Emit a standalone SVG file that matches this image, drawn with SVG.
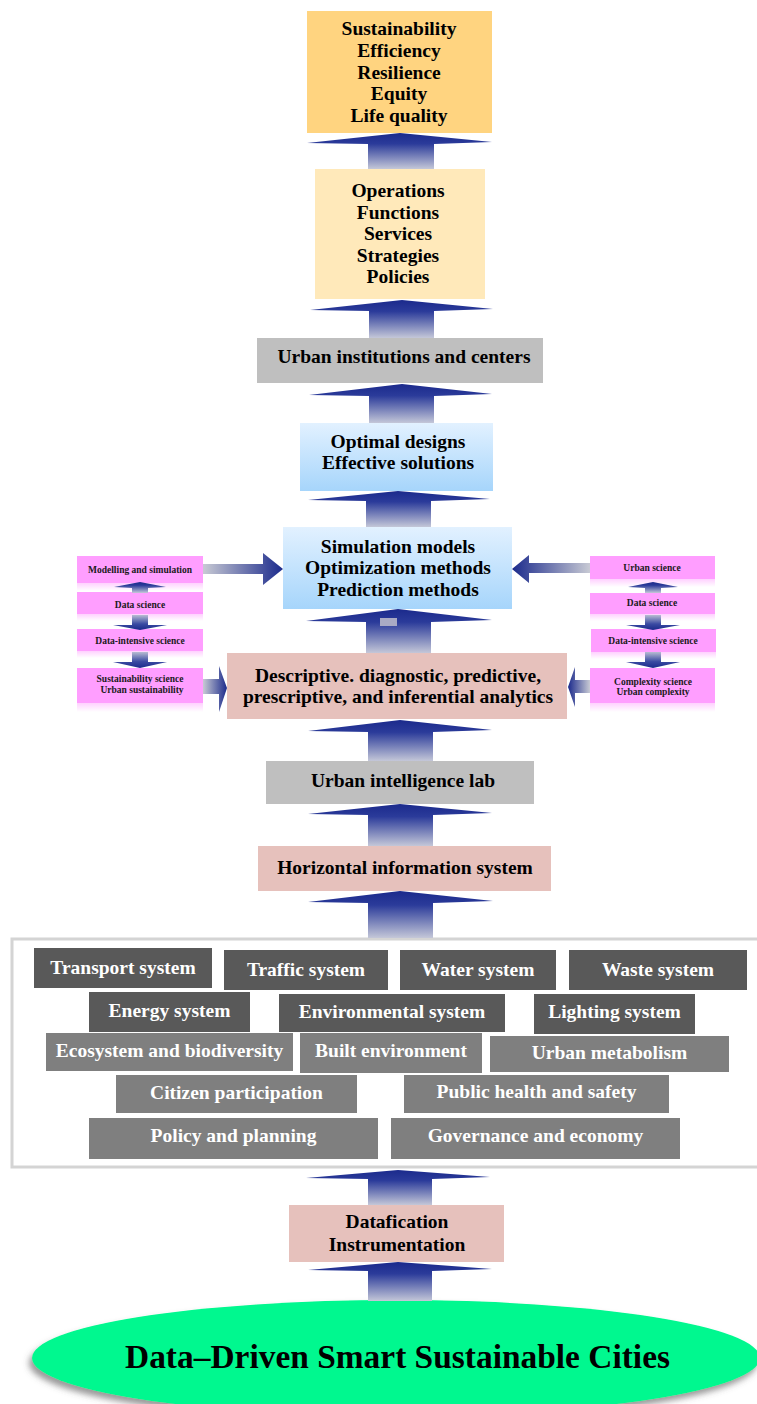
<svg xmlns="http://www.w3.org/2000/svg" width="757" height="1404" viewBox="0 0 757 1404">
<style>
.t{font-family:"Liberation Serif","Times New Roman",serif;font-weight:bold;font-size:19.5px;text-anchor:middle;fill:#000}
.tw{font-family:"Liberation Serif","Times New Roman",serif;font-weight:bold;font-size:19.5px;text-anchor:middle;fill:#fff}
.ts{font-family:"Liberation Serif","Times New Roman",serif;font-weight:bold;font-size:9.5px;text-anchor:middle;fill:#1a1a1a}
.arr{fill:url(#gV)}
.arrD{fill:url(#gD)}
.arrR{fill:url(#gR)}
.arrL{fill:url(#gL)}
.pink{fill:#FF9EFF}
.refl{fill:url(#gRefl)}
.dk{fill:#595959}
.md{fill:#7F7F7F}
.gray{fill:#BFBFBF}
.rose{fill:#E6C1BC}
.blue{fill:url(#gBlue)}
</style>
<defs>
<linearGradient id="gV" x1="0" y1="0" x2="0" y2="1">
<stop offset="0" stop-color="#1B2A8C"/>
<stop offset="0.3" stop-color="#2B3B9A"/>
<stop offset="1" stop-color="#C4C7D8"/>
</linearGradient>
<linearGradient id="gD" x1="0" y1="0" x2="0" y2="1">
<stop offset="0" stop-color="#B8BCD2"/>
<stop offset="0.6" stop-color="#3A4AA2"/>
<stop offset="1" stop-color="#1B2A8C"/>
</linearGradient>
<linearGradient id="gR" x1="0" y1="0" x2="1" y2="0">
<stop offset="0" stop-color="#C8CAD4"/>
<stop offset="1" stop-color="#1B2A8C"/>
</linearGradient>
<linearGradient id="gL" x1="0" y1="0" x2="1" y2="0">
<stop offset="0" stop-color="#1B2A8C"/>
<stop offset="1" stop-color="#C8CAD4"/>
</linearGradient>
<linearGradient id="gBlue" x1="0" y1="0" x2="0" y2="1">
<stop offset="0" stop-color="#E2F1FF"/>
<stop offset="1" stop-color="#A6D5FB"/>
</linearGradient>
<linearGradient id="gRefl" x1="0" y1="0" x2="0" y2="1">
<stop offset="0" stop-color="#FFD0FF"/>
<stop offset="1" stop-color="#FFFFFF"/>
</linearGradient>
<filter id="shadow" x="-10%" y="-30%" width="120%" height="160%">
<feDropShadow dx="-3" dy="5" stdDeviation="3" flood-color="#555" flood-opacity="0.6"/>
</filter>
</defs>

<rect width="757" height="1404" fill="#fff"/>

<g id="container">
<rect x="12" y="939" width="760" height="228" fill="#fff" stroke="#D4D4D4" stroke-width="3"/>
</g>

<g id="n-goals">
<rect x="307" y="11" width="185" height="122" fill="#FFD480"/>
<text class="t" x="399" y="35">Sustainability</text>
<text class="t" x="399" y="57">Efficiency</text>
<text class="t" x="399" y="78.5">Resilience</text>
<text class="t" x="399" y="100">Equity</text>
<text class="t" x="399" y="121.5">Life quality</text>
</g>

<g id="n-operations">
<rect x="315" y="169" width="170" height="130" fill="#FFE9BA"/>
<text class="t" x="398" y="197">Operations</text>
<text class="t" x="398" y="218.5">Functions</text>
<text class="t" x="398" y="240">Services</text>
<text class="t" x="398" y="261.5">Strategies</text>
<text class="t" x="398" y="283">Policies</text>
</g>

<g id="n-institutions">
<rect class="gray" x="257" y="338" width="286" height="45"/>
<text class="t" x="404" y="363">Urban institutions and centers</text>
</g>

<g id="n-designs">
<rect class="blue" x="300" y="423" width="193" height="68"/>
<text class="t" x="398" y="448">Optimal designs</text>
<text class="t" x="398" y="469">Effective solutions</text>
</g>

<g id="n-models">
<rect class="blue" x="283" y="527" width="229" height="82"/>
<text class="t" x="398" y="552.5">Simulation models</text>
<text class="t" x="398" y="574">Optimization methods</text>
<text class="t" x="398" y="595.5">Prediction methods</text>
</g>

<g id="n-analytics">
<rect class="rose" x="227" y="653" width="340" height="66"/>
<text class="t" x="398" y="682">Descriptive. diagnostic, predictive,</text>
<text class="t" x="398" y="703">prescriptive, and inferential analytics</text>
</g>

<g id="n-lab">
<rect class="gray" x="266" y="761" width="268" height="43"/>
<text class="t" x="403" y="787">Urban intelligence lab</text>
</g>

<g id="n-his">
<rect class="rose" x="258" y="846" width="293" height="45"/>
<text class="t" x="405" y="874">Horizontal information system</text>
</g>

<g id="n-left-modelling">
<rect class="pink" x="77" y="556" width="126" height="27"/>
<rect class="refl" x="77" y="583" width="126" height="8"/>
<text class="ts" x="140" y="572.5">Modelling and simulation</text>
</g>
<g id="n-left-datascience">
<rect class="pink" x="77" y="592" width="126" height="22"/>
<rect class="refl" x="77" y="614" width="126" height="7"/>
<text class="ts" x="140" y="608">Data science</text>
</g>
<g id="n-left-dataintensive">
<rect class="pink" x="77" y="629" width="126" height="22"/>
<rect class="refl" x="77" y="651" width="126" height="7"/>
<text class="ts" x="140" y="643.5">Data-intensive science</text>
</g>
<g id="n-left-sustainability">
<rect class="pink" x="77" y="668" width="126" height="35"/>
<rect class="refl" x="77" y="703" width="126" height="9"/>
<text class="ts" x="140" y="682">Sustainability science</text>
<text class="ts" x="142" y="692.5">Urban sustainability</text>
</g>

<g id="n-right-urbanscience">
<rect class="pink" x="590" y="556" width="125" height="23"/>
<rect class="refl" x="590" y="579" width="125" height="8"/>
<text class="ts" x="652" y="570.5">Urban science</text>
</g>
<g id="n-right-datascience">
<rect class="pink" x="590" y="593" width="125" height="21"/>
<rect class="refl" x="590" y="614" width="125" height="7"/>
<text class="ts" x="652" y="605.5">Data science</text>
</g>
<g id="n-right-dataintensive">
<rect class="pink" x="591" y="629" width="125" height="23"/>
<rect class="refl" x="591" y="652" width="125" height="7"/>
<text class="ts" x="653" y="643.5">Data-intensive science</text>
</g>
<g id="n-right-complexity">
<rect class="pink" x="590" y="668" width="125" height="35"/>
<rect class="refl" x="590" y="703" width="125" height="9"/>
<text class="ts" x="653" y="685">Complexity science</text>
<text class="ts" x="653" y="695">Urban complexity</text>
</g>

<g id="n-transport"><rect class="dk" x="34" y="948" width="178" height="40"/><text class="tw" x="123" y="973.5">Transport system</text></g>
<g id="n-traffic"><rect class="dk" x="224" y="950" width="164" height="40"/><text class="tw" x="306" y="975.5">Traffic system</text></g>
<g id="n-water"><rect class="dk" x="400" y="950" width="156" height="40"/><text class="tw" x="478" y="975.5">Water system</text></g>
<g id="n-waste"><rect class="dk" x="569" y="950" width="178" height="40"/><text class="tw" x="658" y="975.5">Waste system</text></g>
<g id="n-energy"><rect class="dk" x="89" y="992" width="161" height="40"/><text class="tw" x="169.5" y="1017">Energy system</text></g>
<g id="n-environmental"><rect class="dk" x="279" y="994" width="226" height="38"/><text class="tw" x="392" y="1018">Environmental system</text></g>
<g id="n-lighting"><rect class="dk" x="534" y="994" width="161" height="40"/><text class="tw" x="614.5" y="1018">Lighting system</text></g>
<g id="n-ecosystem"><rect class="md" x="46" y="1033" width="247" height="38"/><text class="tw" x="169.5" y="1057">Ecosystem and biodiversity</text></g>
<g id="n-built"><rect class="md" x="300" y="1033" width="182" height="40"/><text class="tw" x="391" y="1057">Built environment</text></g>
<g id="n-metabolism"><rect class="md" x="490" y="1036" width="239" height="36"/><text class="tw" x="609.5" y="1059">Urban metabolism</text></g>
<g id="n-citizen"><rect class="md" x="116" y="1075" width="241" height="38"/><text class="tw" x="236.5" y="1099">Citizen participation</text></g>
<g id="n-health"><rect class="md" x="404" y="1075" width="265" height="38"/><text class="tw" x="536.5" y="1098">Public health and safety</text></g>
<g id="n-policy"><rect class="md" x="89" y="1118" width="289" height="41"/><text class="tw" x="233.5" y="1142">Policy and planning</text></g>
<g id="n-governance"><rect class="md" x="391" y="1118" width="289" height="41"/><text class="tw" x="535.5" y="1142">Governance and economy</text></g>

<g id="n-datafication">
<rect class="rose" x="289" y="1205" width="215" height="57"/>
<text class="t" x="397" y="1228">Datafication</text>
<text class="t" x="397" y="1251">Instrumentation</text>
</g>

<g id="n-cities">
<ellipse cx="396" cy="1358" rx="364" ry="58" fill="#00F88F" filter="url(#shadow)"/>
<text class="t" x="397.5" y="1368" textLength="545" lengthAdjust="spacingAndGlyphs" style="font-size:33px">Data–Driven Smart Sustainable Cities</text>
</g>

<g id="connectors">
<path class="arr" d="M307 143 L400 133 L492 142 L434 144 L434 169 L368 169 L368 144 Z"/>
<path class="arr" d="M310 310 L402 300 L493 309 L434 311 L434 338 L369 338 L369 311 Z"/>
<path class="arr" d="M309 395 L402 384 L492 394 L434 396 L434 423 L369 423 L369 396 Z"/>
<path class="arr" d="M308 500 L398 491 L490 499 L431 501 L431 527 L366 527 L366 501 Z"/>
<path class="arr" d="M306 621 L398 609 L492 620 L431 622 L431 653 L366 653 L366 622 Z"/>
<rect x="380" y="618" width="17" height="8" fill="#A9AAC4"/>
<path class="arr" d="M308 731 L400 720 L492 730 L433 732 L433 761 L368 761 L368 732 Z"/>
<path class="arr" d="M308 814 L400 804 L492 813 L433 815 L433 846 L368 846 L368 815 Z"/>
<path class="arr" d="M308 902 L400 891 L493 901 L433 903 L433 938 L368 938 L368 903 Z"/>
<path class="arr" d="M306 1178 L398 1170 L490 1177 L432 1179 L432 1205 L368 1205 L368 1179 Z"/>
<path class="arr" d="M308 1270 L398 1262 L492 1269 L432 1271 L432 1301 L368 1301 L368 1271 Z"/>
<path class="arr" d="M114 587 L140 582 L166 587 L148 588 L148 593 L132 593 L132 588 Z"/>
<path class="arrD" d="M132 615 L148 615 L148 625 L167 625 L140 630 L113 625 L132 625 Z"/>
<path class="arrD" d="M132 652 L148 652 L148 662 L167 662 L140 668 L113 662 L132 662 Z"/>
<path class="arr" d="M628 587 L653 582 L678 587 L661 588 L661 593 L645 593 L645 588 Z"/>
<path class="arrD" d="M645 615 L661 615 L661 625 L680 625 L653 630 L626 625 L645 625 Z"/>
<path class="arrD" d="M645 652 L661 652 L661 662 L680 662 L653 668 L626 662 L645 662 Z"/>
<path class="arrR" d="M203 564 L263 564 L263 553 L283 569 L263 585 L263 574 L203 574 Z"/>
<path class="arrR" d="M203 679 L219 679 L219 666 L227 688 L219 712 L219 694 L203 694 Z"/>
<path class="arrL" d="M590 563 L529 563 L529 555 L512 569 L529 583 L529 573 L590 573 Z"/>
<path class="arrL" d="M590 680 L575 680 L575 667 L568 687 L575 707 L575 693 L590 693 Z"/>
</g>
</svg>
